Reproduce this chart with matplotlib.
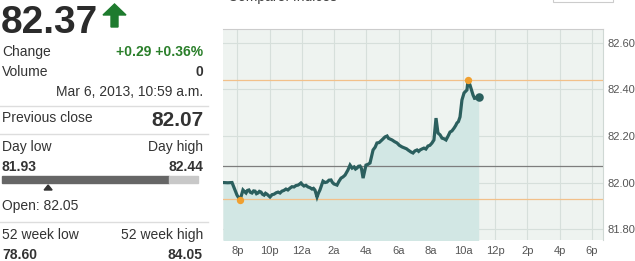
import matplotlib
matplotlib.use("Agg")
import matplotlib.pyplot as plt
from matplotlib.patches import Rectangle, Polygon
from matplotlib.lines import Line2D

plt.rcParams['font.family'] = ['Liberation Sans', 'DejaVu Sans']

W, H = 635, 261

# quote panel values
last_price = "82.37"
change_txt = "+0.29 +0.36%"
volume_txt = "0"
timestamp = "Mar 6, 2013, 10:59 a.m."
prev_close = 82.07
day_low, day_high = 81.93, 82.44
open_price = 82.05
wk52_low, wk52_high = "78.60", "84.05"

# intraday series: hours after 8 p.m. and price
hours = [-0.90, -0.60, -0.34, -0.16, -0.03, 0.16, 0.34, 0.45, 0.53, 0.62, 0.71,
         0.80, 0.90, 1.00, 1.09, 1.18, 1.27, 1.36, 1.46, 1.55, 1.65, 1.74, 1.83,
         1.93, 2.02, 2.15, 2.27, 2.40, 2.52, 2.64, 2.76, 2.88, 3.01, 3.13, 3.26,
         3.38, 3.51, 3.63, 3.76, 3.85, 3.94, 4.04, 4.13, 4.25, 4.38, 4.50, 4.63,
         4.72, 4.81, 4.94, 5.03, 5.12, 5.31, 5.44, 5.56, 5.68, 5.81, 5.90, 5.99,
         6.18, 6.30, 6.43, 6.55, 6.68, 6.86, 6.99, 7.12, 7.24, 7.33, 7.42, 7.52,
         7.61, 7.70, 7.80, 7.98, 8.10, 8.23, 8.42, 8.55, 8.66, 8.80, 8.97, 9.16,
         9.29, 9.38, 9.47, 9.60, 9.75, 9.91, 10.05, 10.22, 10.40, 10.50, 10.59,
         10.78, 10.90, 11.02, 11.15, 11.25, 11.34, 11.45, 11.58, 11.70, 11.83,
         11.95, 12.08, 12.20, 12.33, 12.45, 12.58, 12.70, 12.83, 12.95, 13.08,
         13.20, 13.32, 13.45, 13.55, 13.63, 13.72, 13.82, 13.94, 14.07, 14.17,
         14.25, 14.32, 14.44, 14.55, 14.63, 14.72, 14.81, 14.98]
prices = [82.000, 81.999, 82.000, 81.968, 81.946, 81.925, 81.968, 81.960, 81.955,
          81.966, 81.968, 81.958, 81.955, 81.964, 81.963, 81.952, 81.955, 81.962,
          81.959, 81.950, 81.946, 81.954, 81.950, 81.944, 81.938, 81.948, 81.950,
          81.956, 81.959, 81.955, 81.963, 81.966, 81.972, 81.968, 81.976, 81.982,
          81.981, 81.987, 81.989, 81.993, 81.998, 81.990, 81.985, 81.988, 81.981,
          81.978, 81.972, 81.975, 81.968, 81.938, 81.955, 81.968, 82.006, 82.000,
          82.002, 82.010, 82.011, 82.000, 81.994, 81.989, 82.005, 82.019, 82.024,
          82.032, 82.054, 82.075, 82.062, 82.067, 82.058, 82.062, 82.070, 82.071,
          82.060, 82.019, 82.075, 82.078, 82.084, 82.140, 82.152, 82.170, 82.172,
          82.183, 82.196, 82.200, 82.190, 82.187, 82.183, 82.176, 82.170, 82.160,
          82.153, 82.148, 82.145, 82.140, 82.131, 82.127, 82.136, 82.140, 82.134,
          82.140, 82.144, 82.148, 82.144, 82.157, 82.160, 82.170, 82.183, 82.277,
          82.213, 82.205, 82.191, 82.188, 82.183, 82.200, 82.217, 82.222, 82.234,
          82.245, 82.256, 82.262, 82.282, 82.355, 82.385, 82.392, 82.398, 82.441,
          82.419, 82.395, 82.376, 82.362, 82.363, 82.368]

tick_hours = [0, 2, 4, 6, 8, 10, 12, 14, 16, 18, 20, 22]
tick_labels = ["8p", "10p", "12a", "2a", "4a", "6a", "8a", "10a", "12p", "2p", "4p", "6p"]
price_ticks = [81.80, 82.00, 82.20, 82.40, 82.60]


def fx(x):
    return x / W


def fy(y):
    return 1 - y / H


def ftext(x, y, s, **kw):
    kw.setdefault("va", "center")
    kw.setdefault("color", "#333333")
    kw.setdefault("fontsize", 10)
    fig.text(fx(x), fy(y), s, **kw)


def hline(y, x0=0, x1=208, color="#dddddd"):
    fig.add_artist(Line2D([fx(x0), fx(x1)], [fy(y), fy(y)], color=color, lw=1))


fig = plt.figure(figsize=(W / 100, H / 100), dpi=100)
fig.patch.set_facecolor("white")

# ---- left quote panel ----
ftext(1, 33, last_price, va="baseline", fontsize=28, fontweight="bold", color="#2b2b2b")
arrow = [(103, 15), (114.5, 4), (126, 15), (118, 15), (118, 27), (111, 27), (111, 15)]
fig.add_artist(Polygon([(fx(a), fy(b)) for a, b in arrow], closed=True,
                       color="#1e7b2e", transform=fig.transFigure))
ftext(2, 52, "Change")
ftext(203, 52, change_txt, ha="right", fontweight="bold", color="#2a7f2a")
ftext(2, 72, "Volume")
ftext(203, 72, volume_txt, ha="right", fontweight="bold")
ftext(203, 92, timestamp, ha="right")
hline(106)
ftext(2, 118, "Previous close")
ftext(203, 120, f"{prev_close:.2f}", ha="right", fontsize=15, fontweight="bold")
hline(134)
ftext(2, 147, "Day low")
ftext(203, 147, "Day high", ha="right")
ftext(2, 167, f"{day_low:.2f}", fontweight="bold")
ftext(203, 167, f"{day_high:.2f}", ha="right", fontweight="bold")
# day range bar
bar_x0, split, bar_x1 = 2, 169, 198
fig.add_artist(Rectangle((fx(bar_x0), fy(183)), fx(split - bar_x0), 7 / H,
                         color="#666666", transform=fig.transFigure))
fig.add_artist(Rectangle((fx(split), fy(183)), fx(bar_x1 - split), 7 / H,
                         color="#c8c8c8", transform=fig.transFigure))
ox = bar_x0 + (open_price - day_low) / (day_high - day_low) * (bar_x1 - bar_x0)
tri = [(ox - 4, 190), (ox + 4, 190), (ox, 185)]
fig.add_artist(Polygon([(fx(a), fy(b)) for a, b in tri], closed=True,
                       color="#333333", transform=fig.transFigure))
ftext(2, 206, f"Open: {open_price:.2f}")
hline(222)
ftext(2, 235, "52 week low")
ftext(203, 235, "52 week high", ha="right")
ftext(2, 255, wk52_low, fontweight="bold")
ftext(203, 255, wk52_high, ha="right", fontweight="bold")

# header, cut off at the top as in the widget
ftext(228, -3, "Compare: Indices", color="#444444", fontsize=10)
fig.add_artist(Rectangle((fx(553), fy(2)), fx(60), 6 / H, facecolor="white",
                         edgecolor="#cccccc", lw=0.8, transform=fig.transFigure))

# ---- chart ----
ax = fig.add_axes([fx(223), fy(240), fx(603 - 223), (240 - 29) / H])
ax.set_facecolor("#eef3f0")
ax.set_xlim(-0.90, 22.70)
ax.set_ylim(81.753, 82.660)

for t in tick_hours:
    ax.axvline(t, color="#d6dfdb", lw=0.8, zorder=1)
for p in price_ticks:
    ax.axhline(p, color="#d6dfdb", lw=0.8, zorder=1)

ax.fill_between(hours, prices, 81.70, color="#d2e7e4", zorder=2, lw=0)
ax.axhline(day_high, color="#f2c08a", lw=0.9, zorder=3)
ax.axhline(day_low, color="#f2c08a", lw=0.9, zorder=3)
ax.axhline(prev_close, color="#7d7d7d", lw=0.9, zorder=3)
ax.plot(hours, prices, color="#2b5f5e", lw=2.3, zorder=4, solid_joinstyle="miter")

i_lo = prices.index(min(prices))
i_hi = prices.index(max(prices))
ax.scatter([hours[i_lo], hours[i_hi]], [prices[i_lo], prices[i_hi]], s=28,
           color="#f0a030", zorder=5, lw=0)
ax.scatter([hours[-1]], [prices[-1]], s=38, color="#2b5f5e", zorder=5, lw=0)

ax.set_xticks(tick_hours)
ax.set_xticklabels(tick_labels)
ax.set_yticks(price_ticks)
ax.set_yticklabels([f"{p:.2f}" for p in price_ticks])
ax.yaxis.tick_right()
ax.tick_params(length=0, labelsize=8, labelcolor="#555555")
ax.tick_params(axis="y", pad=3)
ax.tick_params(axis="x", pad=4)
for side in ["left", "bottom"]:
    ax.spines[side].set_visible(False)
ax.spines["top"].set_color("#cccccc")
ax.spines["right"].set_color("#cfd8d4")

fig.savefig("out.png", dpi=100)
